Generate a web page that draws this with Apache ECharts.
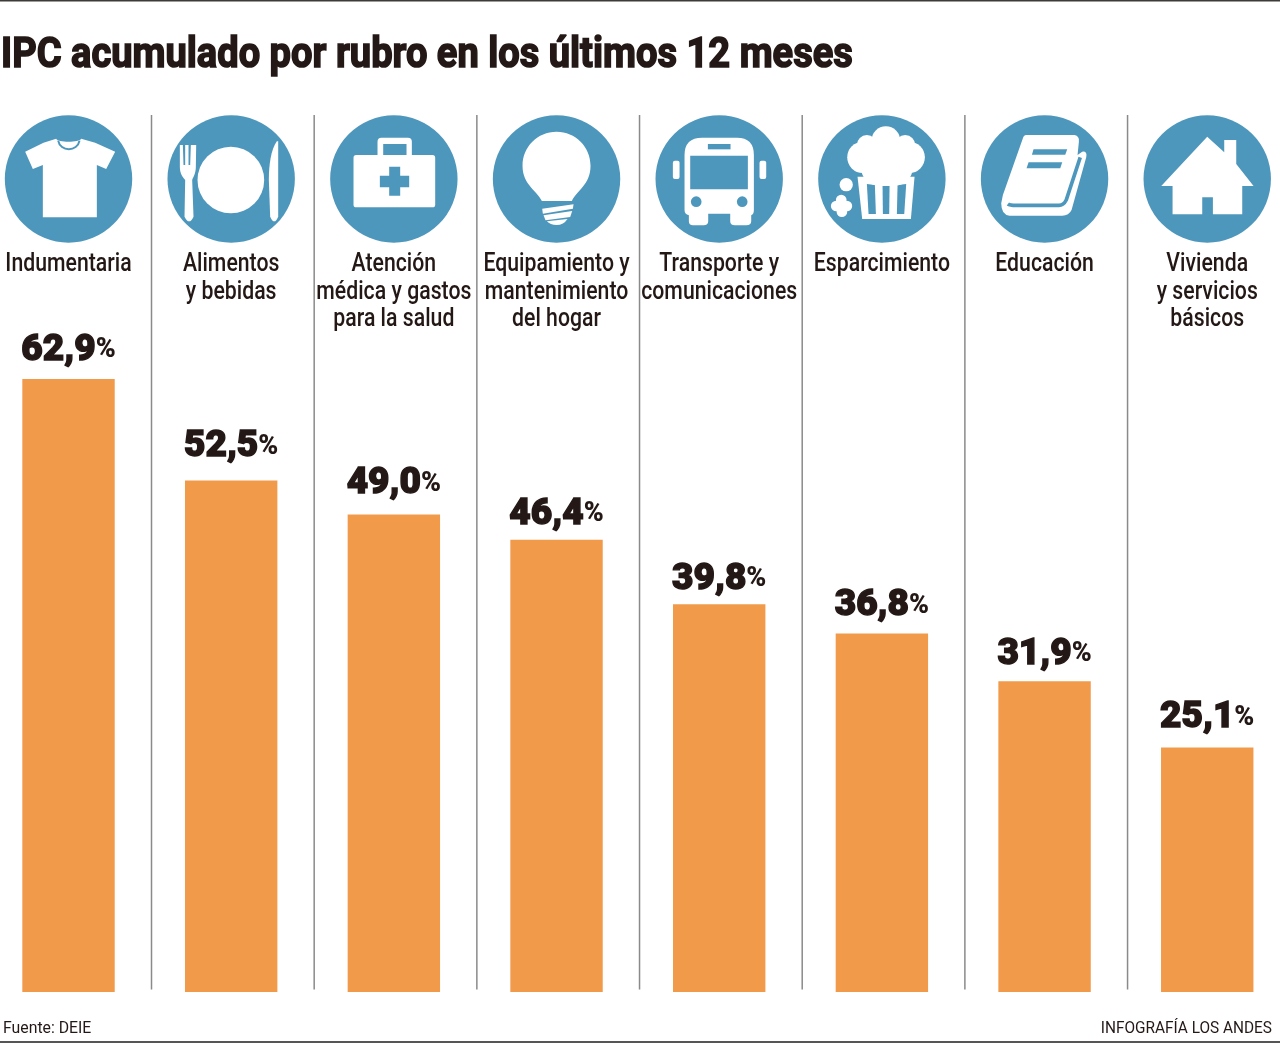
<!DOCTYPE html>
<html><head><meta charset="utf-8">
<style>html,body{margin:0;padding:0;background:#fff}#c{width:1280px;height:1043px}</style>
<script src="https://cdn.jsdelivr.net/npm/echarts@6/dist/echarts.min.js"></script>
</head><body><div id="c"></div>
<script>
const titleText = 'IPC acumulado por rubro en los últimos 12 meses';
const sourceText = 'Fuente: DEIE';
const creditText = 'INFOGRAFÍA LOS ANDES';
const categories = ['Indumentaria','Alimentos\ny bebidas','Atención\nmédica y gastos\npara la salud','Equipamiento y\nmantenimiento\ndel hogar','Transporte y\ncomunicaciones','Esparcimiento','Educación','Vivienda\ny servicios\nbásicos'];
const values = [62.9,52.5,49.0,46.4,39.8,36.8,31.9,25.1];
const labelNudges = [0,-5,-2,3,4,1,2,-1];

const INK='#231815', BLUE='#4e97bc', ORANGE='#f19a4a', WHITE='#fff';
const dot=(x,y,r)=>`M${x-r} ${y}a${r} ${r} 0 1 0 ${2*r} 0a${r} ${r} 0 1 0 ${-2*r} 0Z`;
const rr=(x,y,w,h,r)=>`M${x+r} ${y}H${x+w-r}Q${x+w} ${y} ${x+w} ${y+r}V${y+h-r}Q${x+w} ${y+h} ${x+w-r} ${y+h}H${x+r}Q${x} ${y+h} ${x} ${y+h-r}V${y+r}Q${x} ${y} ${x+r} ${y}Z`;
const W=p=>({p,f:WHITE}), B=p=>({p,f:BLUE}), S=(p,w)=>({p,s:BLUE,w});
const icons=[
 [205,[W('M75 155L130 128L168 116C172 128 238 128 243 116L285 128L345 155L318 207L290 195V352H128V195L98 207Z'),S('M174 122C180 156 232 156 238 122',6)]],
 [691,[W(dot(690,240,100)),
   W('M537 135H546L548 195H553V135H563V195H568L570 135H586L585 200C585 222 576 232 574 240L578 350Q565 378 551 350L553 240C545 230 537 220 537 200Z'),
   W('M828 124C810 150 804 195 804 240L808 350Q820 378 832 350V124Z')]],
 [1179,[W(rr(1130,113,103,70,12)),B('M1147 132H1217V170H1147Z'),W(rr(1058,165,245,157,8)),B('M1165 200H1198V227H1225V262H1198V287H1165V262H1137V227H1165Z')]],
 [229,[W('M185 303C172 272 127 255 127 197C127 140 172 95 229 95C286 95 331 140 331 197C331 255 288 272 275 303Z'),
   W('M186 326L280 313L278 326L188 341Z'),W('M190 346L276 333L270 351L196 361Z'),W('M200 364L262 357Q250 375 229 375Q210 375 200 364Z')]],
 [719,[W('M615 165Q615 113 668 113H772Q823 113 823 165V330Q823 343 815 346V364Q815 376 800 376H766Q752 376 752 364V341H686V364Q686 376 672 376H640Q628 376 628 364V346Q615 343 615 330Z'),
   B('M632 167H805V268H632Z'),B('M685 132H753V148H685Z'),B(dot(650,305,16)),B(dot(788,305,16)),
   W(rr(580,182,20,55,6)),W(rr(840,182,20,55,6))]],
 [1205,[W('M1132 230L1303 230L1292 357H1146Z'),B('M1160 252L1184 255L1187 342H1165Z'),B('M1207 258L1228 258L1227 342H1208Z'),B('M1252 255L1278 252L1272 342H1250Z'),
   W(dot(1217,122,43)),W(dot(1160,135,30)),W(dot(1275,135,30)),W(dot(1148,172,47)),W(dot(1287,172,47)),W(dot(1195,205,52)),W(dot(1245,205,52)),W(dot(1217,170,50)),
   W(dot(1098,254,20)),W(dot(1068,318,16)),W(dot(1100,318,16)),W(dot(1083,300,16)),W(dot(1085,335,16)),W(dot(1083,318,18))]],
 [255,[W('M200 105H345Q360 108 358 125L354 165L368 155Q384 153 380 172L336 330Q328 347 308 347H150Q125 345 125 310L130 285L190 115Q193 105 200 105Z'),
   S('M145 312Q150 316 170 316H298Q312 316 320 300L362 172',11),B('M222 148H323L317 164H217Z'),B('M207 187H308L302 205H201Z')]],
 [741,[W('M741 110L792 157V120H828V192L880 258H846V343H758V292H726V343H637V258H603Z')]]
];
const ICON_CY=179, ICON_R=63.7;

const chart=echarts.init(document.getElementById('c'),null,{renderer:'canvas'});
chart.setOption({
 animation:false,
 backgroundColor:'#fff',
 grid:{left:-12.83,width:1301.4,top:115,height:877,containLabel:false,outerBoundsMode:'none'},
 xAxis:{type:'category',data:categories,axisLine:{show:false},axisTick:{show:false},splitLine:{show:false},axisLabel:{show:false}},
 yAxis:{type:'value',min:0,max:90,show:false,splitLine:{show:false}},
 graphic:[
  {type:'rect',shape:{x:0,y:0,width:1280,height:1.5},style:{fill:'#3d3a38'}},
  {type:'rect',shape:{x:0,y:1041,width:1280,height:2},style:{fill:'#555'}},
  {type:'text',x:1,y:56,scaleX:0.885,style:{text:titleText,fontFamily:'Roboto',fontWeight:'bold',fontSize:43,fill:INK,stroke:INK,lineWidth:1.6,textAlign:'left',textVerticalAlign:'middle'}},
  {type:'text',x:3,y:1029,scaleX:0.93,style:{text:sourceText,fontFamily:'Roboto',fontSize:17,fill:INK,textAlign:'left',textVerticalAlign:'middle'}},
  {type:'text',x:1272,y:1029,scaleX:0.905,style:{text:creditText,fontFamily:'Roboto',fontSize:17,fill:INK,textAlign:'right',textVerticalAlign:'middle'}}
 ],
 series:[
  {type:'bar',data:values,barWidth:92.4,itemStyle:{color:ORANGE},
   label:{show:true,position:'top',distance:10,
    formatter:p=>`{v|${p.value.toFixed(1).replace('.',',')}}{p|%}`,
    rich:{v:{fontFamily:'Roboto',fontWeight:900,fontSize:37,color:INK,textBorderColor:INK,textBorderWidth:1.4},p:{fontFamily:'Roboto',fontWeight:900,fontSize:27,color:INK}}},
   labelLayout:p=>({dy:labelNudges[p.dataIndex]})},
  {type:'custom',coordinateSystem:'cartesian2d',silent:true,clip:false,z:1,
   data:categories.map((c,i)=>[i,0]),encode:{x:0,y:1},
   renderItem:(params,api)=>{
     const i=api.value(0), cx=api.coord([i,0])[0];
     const [ox,parts]=icons[i];
     const children=[{type:'circle',shape:{cx,cy:ICON_CY,r:ICON_R},style:{fill:BLUE}},
      {type:'group',x:cx-ox/3,y:100,scaleX:1/3,scaleY:1/3,
       children:parts.map(o=>({type:'path',shape:{pathData:o.p},style:o.s?{fill:null,stroke:o.s,lineWidth:o.w}:{fill:o.f}}))},
      {type:'group',x:cx,y:251,scaleX:0.85,children:[{type:'text',style:{text:categories[i],x:0,y:0,fontFamily:'Roboto',fontWeight:500,fontSize:25,lineHeight:27.5,fill:INK,textAlign:'center',textVerticalAlign:'top'}}]}];
     if(i<categories.length-1) children.push({type:'line',shape:{x1:cx+83,y1:115,x2:cx+83,y2:989.5},style:{stroke:'#8a8a8a',lineWidth:1.5}});
     return {type:'group',children};
   }}
 ]
});
</script></body></html>
